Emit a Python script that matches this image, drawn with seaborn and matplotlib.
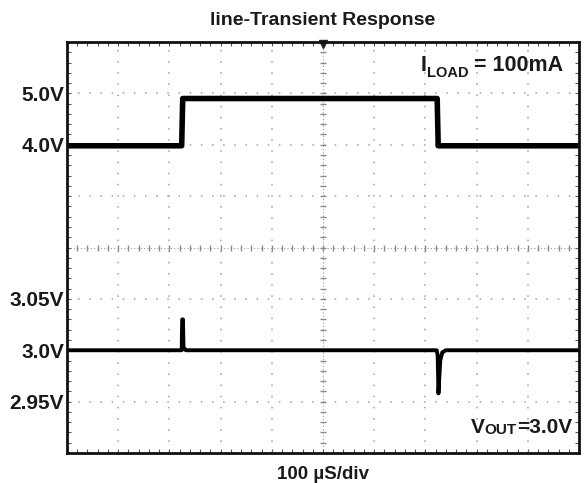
import matplotlib
matplotlib.use("Agg")
import matplotlib.pyplot as plt
import numpy as np
import pandas as pd
import seaborn as sns

# time in microseconds, 100 us per division
t_in = [0, 224, 226, 723, 725, 1000]
v_in = [3.98, 3.98, 4.9, 4.9, 3.98, 3.98]

t_out = [0, 224, 225, 226.5, 227.5, 232, 245, 722, 724, 725.5, 727, 729, 733, 740, 1000]
v_out = [3.0, 3.0, 3.03, 3.03, 3.003, 3.0, 3.0, 3.0, 2.995, 2.958, 2.972, 2.99, 2.998, 3.0, 3.0]

ytick_pos = [7, 6, 3, 2, 1]
ytick_lab = ["5.0V", "4.0V", "3.05V", "3.0V", "2.95V"]

title = "line-Transient Response"
xlabel = "100 \u00b5S/div"


# channel offsets on the 8-division screen
def ch1(v):
    return (np.asarray(v) - 4.0) / 1.0 + 6


def ch2(v):
    return (np.asarray(v) - 3.0) / 0.05 + 2


sns.set_theme(style="white")
plt.rcParams["font.family"] = ["Liberation Sans", "DejaVu Sans"]
plt.rcParams["font.weight"] = "bold"

fig = plt.figure(figsize=(5.84, 4.83), dpi=100)
ax = fig.add_axes([67 / 584, 30 / 483, 512 / 584, 411 / 483])

df_in = pd.DataFrame({"t": t_in, "div": ch1(v_in)})
df_out = pd.DataFrame({"t": t_out, "div": ch2(v_out)})

ax.set_xlim(0, 1000)
ax.set_ylim(0, 8)

# dotted graticule
grid_kw = dict(color="#a0a0a0", linestyle=(0, (1, 6.3)), linewidth=1.1)
for xv in range(100, 1000, 100):
    if xv != 500:
        ax.axvline(xv, **grid_kw)
for yv in range(1, 8):
    if yv != 4:
        ax.axhline(yv, **grid_kw)
ax.axhline(4, color="#9a9a9a", lw=0.8, ls=(0, (1, 2)))
ax.axvline(500, color="#9a9a9a", lw=0.8, ls=(0, (1, 2)))
cx = np.arange(20, 1000, 20)
cy = np.arange(0.2, 8, 0.2)
ax.plot(cx, np.full_like(cx, 4.0, dtype=float), ls="none", marker="|", ms=5, mew=1, color="#8a8a8a")
ax.plot(np.full_like(cy, 500.0), cy, ls="none", marker="_", ms=5, mew=1, color="#8a8a8a")
ax.plot([500], [7.97], marker="v", ms=6, color="#222222", clip_on=False)

sns.lineplot(data=df_in, x="t", y="div", sort=False, estimator=None, color="black", lw=4, ax=ax)
sns.lineplot(data=df_out, x="t", y="div", sort=False, estimator=None, color="black", lw=2.8, ax=ax)

ax.set_xticks(np.arange(0, 1001, 100))
ax.set_xticks(np.arange(0, 1001, 20), minor=True)
ax.set_xticklabels([])
ax.set_yticks(ytick_pos)
ax.set_yticks(np.arange(0, 8.01, 0.2), minor=True)
ax.set_yticklabels(ytick_lab, fontsize=15, fontweight="bold", color="#1a1a1a")
ax.grid(False)
ax.tick_params(which="both", direction="in", top=True, right=True, left=True, bottom=True,
               color="#555555")
ax.tick_params(which="major", length=3, width=0.8, pad=2)
ax.tick_params(which="minor", length=3, width=0.8)
ax.set_xlabel(xlabel, fontsize=13.5, fontweight="bold", labelpad=6, color="#1a1a1a")
ax.set_ylabel("")
ax.set_title(title, fontsize=14, fontweight="bold", pad=12, color="#1a1a1a")

for sp in ax.spines.values():
    sp.set_visible(True)
    sp.set_color("#111111")
    sp.set_linewidth(2)

# annotations with small-caps style subscripts
t1 = ax.text(690, 7.55, "I", fontsize=15.5, fontweight="bold", va="center", ha="left", color="#1a1a1a")
t2 = ax.annotate("LOAD", xy=(1, 0), xycoords=t1, xytext=(0.5, -3), textcoords="offset points",
                 fontsize=10.5, fontweight="bold", va="bottom", ha="left", color="#1a1a1a")
ax.annotate(" = 100mA", xy=(1, 0), xycoords=t2, xytext=(0, 3), textcoords="offset points",
            fontsize=15.5, fontweight="bold", va="bottom", ha="left", color="#1a1a1a")

v1 = ax.text(789, 0.49, "V", fontsize=15, fontweight="bold", va="center", ha="left", color="#1a1a1a")
v2 = ax.annotate("OUT", xy=(1, 0), xycoords=v1, xytext=(0, 0), textcoords="offset points",
                 fontsize=11, fontweight="bold", va="bottom", ha="left", color="#1a1a1a")
ax.annotate("=3.0V", xy=(1, 0), xycoords=v2, xytext=(0, 0), textcoords="offset points",
            fontsize=15, fontweight="bold", va="bottom", ha="left", color="#1a1a1a")

fig.savefig("out.png", dpi=100)
